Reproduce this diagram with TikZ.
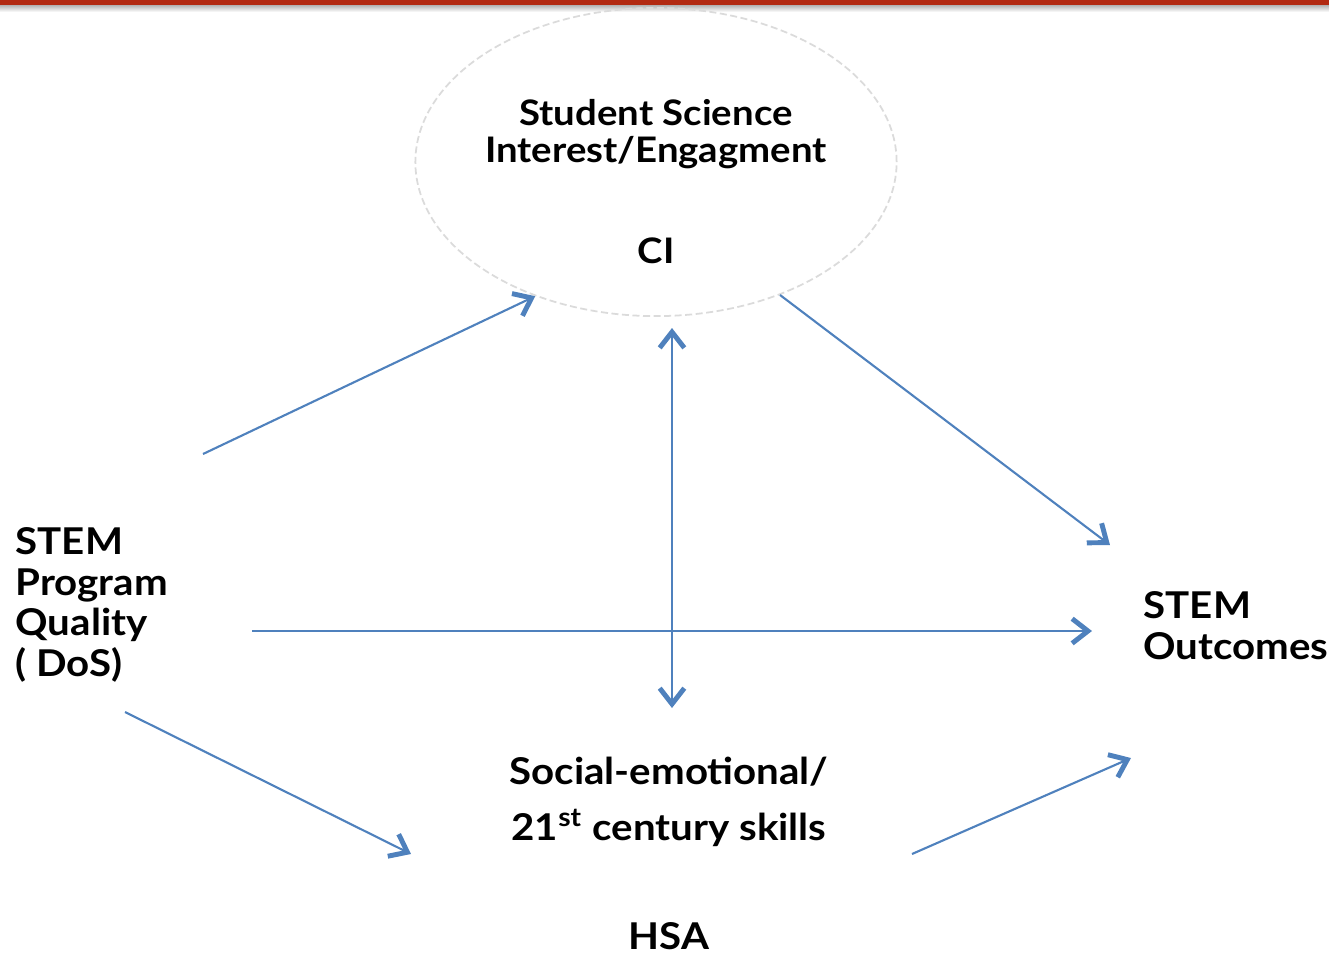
\documentclass[tikz,border=0pt]{standalone}
\usepackage{fontspec}
\setmainfont{Lato}[BoldFeatures={FakeStretch=1.09}]
\usetikzlibrary{positioning, shapes.geometric, arrows.meta}
\definecolor{linkblue}{RGB}{79,129,189}
\definecolor{barred}{RGB}{178,42,18}
\tikzstyle{factor} = [font=\fontsize{10.5}{11.5}\selectfont\bfseries, align=left, inner sep=0pt]
\tikzstyle{inner} = [font=\fontsize{10}{10.5}\selectfont\bfseries, align=center, inner sep=0pt]
\tikzstyle{construct} = [ellipse, draw=black!14, dash pattern=on 2pt off 1pt, line width=0.5pt, minimum width=4.81cm, minimum height=3.08cm]
\tikzstyle{arrow} = [draw=linkblue, line width=0.6pt, ->, >={Straight Barb[length=4.5pt,width=7pt,line width=1.4pt]}]

\begin{document}
\begin{tikzpicture}[x=0.01cm, y=-0.01cm]
  \useasboundingbox (0,0) rectangle (1329,953);
  % top bar
  \fill[barred] (0,0) rectangle (1329,5);
  \shade[top color=black!30, bottom color=white] (0,5) rectangle (1329,12);

  % nodes
  \node (ci) [construct] at (656,162) {};
  \node (citext) [inner, anchor=north] at (656,99) {Student Science\\Interest/Engagment};
  \node (cilabel) [inner] at (656,251) {CI};
  \node (dos) [factor, anchor=north west] at (15,527) {STEM\\Program\\Quality\\( DoS)};
  \node (outcomes) [factor, anchor=north west] at (1143,591) {STEM\\Outcomes};
  \node (skills) [factor, align=center, font=\fontsize{10.5}{15.9}\selectfont\bfseries, anchor=north] at (669,756) {Social-emotional/\\21\textsuperscript{st} century skills};
  \node (hsa) [factor] at (669,936) {HSA};

  % free ends of the arrows
  \coordinate (dosTop) at (203,454);
  \coordinate (dosMid) at (252,631);
  \coordinate (dosLow) at (125,712);
  \coordinate (ciBelow) at (672,328);
  \coordinate (skillsAbove) at (672,708);
  \coordinate (skillsLeft) at (411,854);
  \coordinate (skillsRight) at (912,854);
  \coordinate (outTop) at (1110,545);
  \coordinate (outMid) at (1092,631);
  \coordinate (outLow) at (1131,758);

  % arrows
  \draw [arrow] (dosTop) -- (ci.228);
  \draw [arrow] (ci.313) -- (outTop);
  \draw [arrow, <->] (ciBelow) -- (skillsAbove);
  \draw [arrow] (dosMid) -- (outMid);
  \draw [arrow] (dosLow) -- (skillsLeft);
  \draw [arrow] (skillsRight) -- (outLow);
\end{tikzpicture}
\end{document}
